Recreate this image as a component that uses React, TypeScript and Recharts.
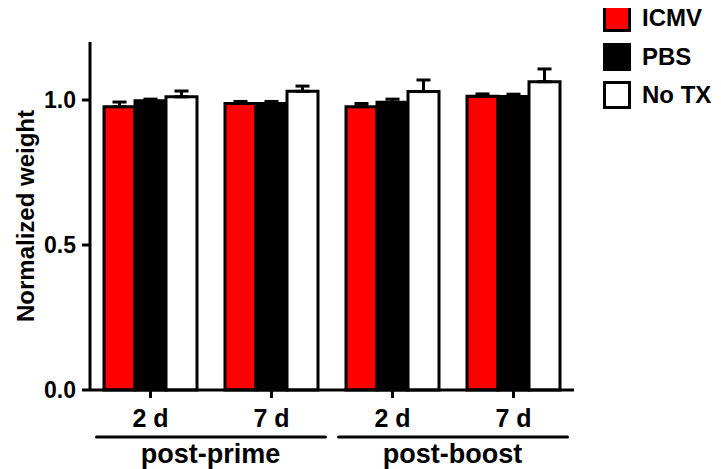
import { Bar, BarChart, ErrorBar, XAxis, YAxis } from 'recharts'

const keys = ['pp2', 'pp7', 'pb2', 'pb7']
const dayLabels = ['2 d', '7 d', '2 d', '7 d']
const groupLabels = ['post-prime', 'post-prime', 'post-boost', 'post-boost']
const icmv = [0.977, 0.988, 0.977, 1.013]
const icmvErr = [0.016, 0.007, 0.011, 0.008]
const pbs = [0.997, 0.988, 0.992, 1.012]
const pbsErr = [0.006, 0.007, 0.011, 0.008]
const noTx = [1.011, 1.03, 1.029, 1.063]
const noTxErr = [0.02, 0.018, 0.04, 0.044]
const yTicks = [0, 0.5, 1.0]

const series = [
  { key: 'icmv', err: 'icmvErr', name: 'ICMV', fill: '#ff0000' },
  { key: 'pbs', err: 'pbsErr', name: 'PBS', fill: '#000000' },
  { key: 'noTx', err: 'noTxErr', name: 'No TX', fill: '#ffffff' },
]

const data = keys.map((k, i) => ({
  key: k,
  icmv: icmv[i],
  icmvErr: icmvErr[i],
  pbs: pbs[i],
  pbsErr: pbsErr[i],
  noTx: noTx[i],
  noTxErr: noTxErr[i],
}))

const FONT = 'Liberation Sans, Arial, sans-serif'

// day label under each tick, plus the bracket line + group name once per pair
function DayTick(props: any) {
  const { x, y, index } = props
  const first = index % 2 === 0
  return (
    <g>
      <text x={x} y={y + 27} textAnchor="middle" fontFamily={FONT} fontWeight="bold" fontSize={25} fill="#000">
        {dayLabels[index]}
      </text>
      {first && (
        <g>
          <line x1={x - 54} x2={x + 175} y1={y + 37} y2={y + 37} stroke="#000" strokeWidth={3} strokeLinecap="round" />
          <text x={x + 60} y={y + 63} textAnchor="middle" fontFamily={FONT} fontWeight="bold" fontSize={27} fill="#000">
            {groupLabels[index]}
          </text>
        </g>
      )}
    </g>
  )
}

function LegendBox() {
  return (
    <div
      style={{
        position: 'absolute',
        left: 595,
        top: -9,
        fontFamily: FONT,
        fontWeight: 'bold',
        fontSize: 24,
        whiteSpace: 'nowrap',
      }}
    >
      {series.map((s) => (
        <div key={s.key} style={{ display: 'flex', alignItems: 'center', height: 38.5 }}>
          <span
            style={{
              width: 22,
              height: 22,
              background: s.fill,
              border: '3px solid #000',
              marginRight: 11,
              display: 'inline-block',
              flexShrink: 0,
            }}
          />
          <span>{s.name}</span>
        </div>
      ))}
    </div>
  )
}

export default function App() {
  return (
    <div style={{ position: 'relative', width: 705, height: 461 }}>
      <BarChart
        width={705}
        height={461}
        data={data}
        margin={{ top: 34, right: 139, bottom: 0, left: 0 }}
        barGap={0}
        barSize={31}
      >
        <YAxis
          domain={[0, 1.2]}
          ticks={yTicks}
          tickFormatter={(v: number) => v.toFixed(1)}
          width={82}
          tickSize={8}
          tickMargin={6}
          axisLine={{ stroke: '#000', strokeWidth: 3 }}
          tickLine={{ stroke: '#000', strokeWidth: 3 }}
          tick={{ fill: '#000', fontFamily: FONT, fontWeight: 'bold', fontSize: 23 }}
          label={{
            value: 'Normalized weight',
            angle: -90,
            position: 'insideLeft',
            offset: 17,
            style: { textAnchor: 'middle', fill: '#000', fontFamily: FONT, fontWeight: 'bold', fontSize: 24 },
          }}
        />
        <XAxis
          dataKey="key"
          height={79}
          tickSize={8}
          axisLine={{ stroke: '#000', strokeWidth: 3 }}
          tickLine={{ stroke: '#000', strokeWidth: 3 }}
          tick={<DayTick />}
          interval={0}
        />
        {series.map((s) => (
          <Bar
            key={s.key}
            dataKey={s.key}
            name={s.name}
            fill={s.fill}
            stroke="#000"
            strokeWidth={3}
            isAnimationActive={false}
          >
            <ErrorBar
              dataKey={(d: any) => [0, d[s.err]]}
              width={7}
              stroke="#000"
              strokeWidth={3}
              direction="y"
            />
          </Bar>
        ))}
      </BarChart>
      <LegendBox />
    </div>
  )
}
